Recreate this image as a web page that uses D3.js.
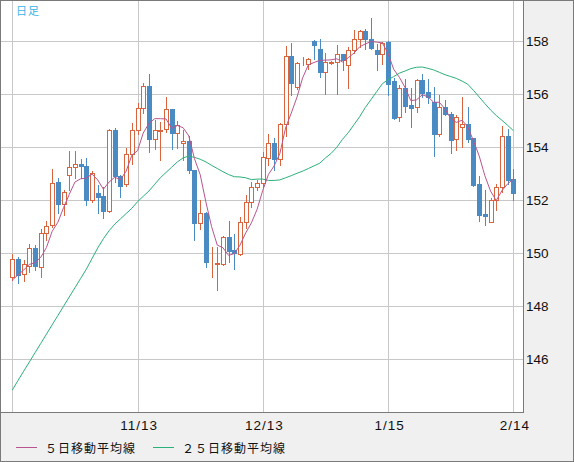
<!DOCTYPE html>
<html>
<head>
<meta charset="utf-8">
<script src="https://cdn.jsdelivr.net/npm/d3@7"></script>
<style>
  body { margin: 0; background: #f0f0f0; }
  svg { display: block; }
</style>
</head>
<body>
<div id="chart"></div>
<script>
// daily candles, 2024/10/14 - 2025/02/14
const dates = [
  "10/14","10/15","10/16","10/17","10/18","10/21","10/22","10/23","10/24","10/25","10/28","10/29","10/30","10/31",
  "11/1","11/4","11/5","11/6","11/7","11/8","11/11","11/12","11/13","11/14","11/15","11/18","11/19","11/20","11/21",
  "11/22","11/25","11/26","11/27","11/28","11/29","12/2","12/3","12/4","12/5","12/6","12/9","12/10","12/11","12/12",
  "12/13","12/16","12/17","12/18","12/19","12/20","12/23","12/24","12/25","12/26","12/27","12/30","12/31","1/2","1/3",
  "1/6","1/7","1/8","1/9","1/10","1/13","1/14","1/15","1/16","1/17","1/20","1/21","1/22","1/23","1/24","1/27","1/28",
  "1/29","1/30","1/31","2/3","2/4","2/5","2/6","2/7","2/10","2/11","2/12","2/13","2/14"
];

const open = [
  149.12,149.77,149.23,149.53,150.19,149.50,150.75,151.07,152.68,151.85,152.94,153.25,153.36,153.30,
  152.01,152.26,152.16,151.61,154.65,152.90,152.62,153.74,154.65,155.47,156.31,154.30,154.60,154.68,155.43,
  154.53,154.15,154.24,153.14,151.13,151.53,149.58,149.60,149.60,150.63,150.13,149.97,151.19,151.95,152.49,
  152.64,153.58,154.15,153.55,154.87,157.45,156.29,157.17,157.13,158.00,157.70,156.86,157.20,157.22,157.53,
  157.12,157.66,158.08,158.38,158.10,157.68,157.53,157.98,156.52,155.13,156.25,155.60,155.51,156.54,156.10,
  155.70,154.50,155.51,155.26,154.30,154.75,154.88,154.34,152.62,151.48,151.19,152.01,152.49,154.43,152.79
];
const high = [
  149.99,149.87,149.75,150.35,150.31,150.92,151.21,153.17,152.84,152.39,153.86,153.86,153.57,153.58,
  153.09,152.58,152.52,154.69,154.73,152.96,153.99,154.91,155.66,156.44,156.77,155.03,154.97,155.91,155.45,
  154.99,154.65,154.43,153.14,152.01,151.57,150.25,150.25,150.65,151.23,150.73,151.38,152.20,152.70,152.77,
  153.84,154.50,154.36,154.90,157.82,157.95,157.23,157.41,157.37,158.05,158.08,157.55,157.25,157.85,157.53,
  157.79,158.42,158.42,158.48,158.88,157.90,157.98,158.00,156.60,156.35,156.58,156.23,156.56,156.77,156.58,
  156.29,155.97,155.79,155.35,155.22,155.89,155.53,154.36,152.92,152.39,152.08,152.62,154.81,154.69,153.18
];
const low = [
  148.99,148.87,148.97,149.28,149.37,149.09,150.50,151.00,151.53,151.45,152.39,152.83,152.83,151.81,
  151.95,151.53,151.33,151.57,152.70,152.14,152.55,153.37,154.50,155.30,153.84,153.92,153.52,154.59,153.92,
  153.99,153.52,153.02,150.50,150.91,149.47,149.09,148.62,149.55,149.69,149.40,149.94,150.94,151.76,152.39,
  152.52,153.33,153.14,153.33,154.43,155.96,156.20,157.09,156.97,157.35,156.65,156.01,157.15,156.03,156.91,
  156.24,157.57,157.79,157.72,157.72,156.90,157.15,155.96,155.05,154.99,155.35,154.78,155.35,155.89,155.66,
  153.69,154.43,155.22,153.80,153.90,154.00,154.21,152.55,151.22,151.08,151.19,151.64,152.33,152.60,152.01
];
const close = [
  149.77,149.18,149.58,150.19,149.53,150.75,151.03,152.67,151.85,152.30,153.25,153.36,153.30,152.01,
  153.02,152.14,151.61,154.65,152.93,152.55,153.74,154.65,155.47,156.31,154.31,154.65,154.66,155.43,154.53,
  154.83,154.24,153.14,151.13,151.53,149.66,149.60,149.62,150.63,150.10,150.00,151.19,151.95,152.52,152.64,
  153.62,154.15,153.55,154.87,157.45,156.42,157.17,157.20,157.32,157.87,156.86,157.22,157.22,157.53,157.28,
  157.66,158.08,158.38,158.10,157.75,157.53,157.94,156.40,155.09,156.23,155.57,155.50,156.54,156.06,155.89,
  154.50,155.53,155.25,154.28,155.16,154.88,154.31,152.58,151.45,151.42,152.01,152.49,154.43,152.77,152.29
];

// moving averages
const ma5 = [
  148.99,149.18,149.37,149.58,149.65,149.85,150.22,150.83,151.17,151.72,152.22,152.69,152.81,152.84,
  152.99,152.77,152.42,152.69,152.87,152.78,153.10,153.70,153.87,154.54,154.90,155.08,155.08,155.07,154.72,
  154.82,154.74,154.43,153.57,152.97,151.94,151.01,150.31,150.21,149.92,149.99,150.31,150.77,151.15,151.66,
  152.38,152.98,153.30,153.77,154.73,155.29,155.89,156.62,157.11,157.20,157.28,157.29,157.30,157.34,157.22,
  157.38,157.55,157.79,157.90,157.99,157.97,157.94,157.54,156.94,156.64,156.25,155.76,155.79,155.98,155.91,
  155.70,155.70,155.45,155.09,154.94,155.02,154.78,154.24,153.68,152.93,152.35,151.99,152.36,152.62,152.80
];
const ma25 = [
  144.84,145.20,145.55,145.90,146.25,146.60,146.95,147.30,147.65,148.00,148.35,148.70,149.05,149.40,
  149.80,150.20,150.55,150.85,151.10,151.30,151.50,151.70,151.95,152.15,152.35,152.60,152.85,153.05,153.25,
  153.45,153.60,153.67,153.62,153.55,153.45,153.32,153.20,153.08,152.97,152.89,152.88,152.85,152.78,152.80,
  152.80,152.75,152.75,152.77,152.85,152.93,153.02,153.10,153.20,153.30,153.40,153.60,153.77,154.00,154.30,
  154.55,154.85,155.15,155.50,155.80,156.10,156.40,156.55,156.67,156.80,156.88,156.97,157.02,157.03,156.98,
  156.92,156.83,156.74,156.67,156.60,156.50,156.38,156.15,155.90,155.65,155.41,155.20,155.02,154.83,154.63
];

const yTicks = [146, 148, 150, 152, 154, 156, 158];
const gridDates = ["10/14", "11/13", "12/13", "1/15", "2/14"];
const labelDates = ["11/13", "12/13", "1/15", "2/14"];

const W = 574, H = 462;
const plot = { left: 1, top: 1, right: 523, bottom: 412 };

const colUp = "#d9643e", colDown = "#4b8bc3";
const colMa5 = "#b9558e", colMa25 = "#2bb07a";
const colGrid = "#c8c8c8", colBorder = "#7a7a7a";

const svg = d3.select("#chart")
  .append("svg")
  .attr("width", W)
  .attr("height", H);

svg.append("rect")
  .attr("width", W).attr("height", H)
  .attr("fill", "#f0f0f0");

svg.append("rect")
  .attr("x", plot.left).attr("y", plot.top)
  .attr("width", plot.right - plot.left).attr("height", plot.bottom - plot.top)
  .attr("fill", "#fff");

// scales
const x = d3.scalePoint()
  .domain(dates)
  .range([12.3, 513.3]);

const y = d3.scaleLinear()
  .domain([146, 158])
  .range([359.3, 41.3]);

const px = v => Math.round(v) + 0.5;

// grid
svg.append("g")
  .selectAll("line")
  .data(yTicks)
  .join("line")
    .attr("x1", plot.left).attr("x2", plot.right)
    .attr("y1", d => px(y(d))).attr("y2", d => px(y(d)))
    .attr("stroke", colGrid)
    .attr("shape-rendering", "crispEdges");

svg.append("g")
  .selectAll("line")
  .data(gridDates)
  .join("line")
    .attr("x1", d => px(x(d))).attr("x2", d => px(x(d)))
    .attr("y1", plot.top).attr("y2", plot.bottom)
    .attr("stroke", colGrid)
    .attr("shape-rendering", "crispEdges");

// candles
const candles = dates.map((d, i) => ({
  date: d, o: open[i], h: high[i], l: low[i], c: close[i]
}));

svg.append("defs").append("clipPath")
  .attr("id", "clip")
  .append("rect")
    .attr("x", plot.left).attr("y", plot.top)
    .attr("width", plot.right - plot.left).attr("height", plot.bottom - plot.top);

const g = svg.append("g").attr("clip-path", "url(#clip)");

const cg = g.append("g")
  .selectAll("g")
  .data(candles)
  .join("g")
    .attr("shape-rendering", "crispEdges");

cg.append("line")
  .attr("x1", d => Math.round(x(d.date)) + 0.5)
  .attr("x2", d => Math.round(x(d.date)) + 0.5)
  .attr("y1", d => Math.round(y(d.h)))
  .attr("y2", d => Math.round(y(d.l)) + 1)
  .attr("stroke", d => d.c >= d.o ? colUp : colDown);

cg.append("rect")
  .attr("x", d => d.c >= d.o ? Math.round(x(d.date)) - 1.5 : Math.round(x(d.date)) - 2)
  .attr("y", d => d.c >= d.o ? Math.round(y(d.c)) + 0.5 : Math.round(y(d.o)))
  .attr("width", d => d.c >= d.o ? 4 : 5)
  .attr("height", d => d.c >= d.o
    ? Math.max(0, Math.round(y(d.o)) - Math.round(y(d.c)))
    : Math.max(1, Math.round(y(d.c)) - Math.round(y(d.o)) + 1))
  .attr("fill", d => d.c >= d.o ? "#fff" : colDown)
  .attr("stroke", d => d.c >= d.o ? colUp : "none");

// moving averages
const maLine = d3.line()
  .x((d, i) => x(dates[i]))
  .y(d => y(d));

g.append("path")
  .datum(ma25)
  .attr("fill", "none")
  .attr("stroke", colMa25)
  .attr("stroke-width", 1)
  .attr("d", maLine);

g.append("path")
  .datum(ma5)
  .attr("fill", "none")
  .attr("stroke", colMa5)
  .attr("stroke-width", 1)
  .attr("d", maLine);

// borders
svg.append("path")
  .attr("d", `M${plot.right + 0.5},0 V${plot.bottom + 0.5} H0`)
  .attr("fill", "none")
  .attr("stroke", colBorder)
  .attr("shape-rendering", "crispEdges");

svg.append("rect")
  .attr("x", 0.5).attr("y", 0.5)
  .attr("width", W - 1).attr("height", H - 1)
  .attr("fill", "none")
  .attr("stroke", colBorder)
  .attr("shape-rendering", "crispEdges");

// axis labels
svg.append("g")
  .selectAll("text")
  .data(yTicks)
  .join("text")
    .attr("x", 526)
    .attr("y", d => y(d) + 5)
    .text(d => d)
    .style("font-family", "'Liberation Sans', Arial, sans-serif")
    .style("font-size", "13.5px")
    .attr("fill", "#111");

svg.append("g")
  .selectAll("text")
  .data(labelDates)
  .join("text")
    .attr("x", d => x(d) + 1.5)
    .attr("y", 430)
    .attr("text-anchor", "middle")
    .text(d => d)
    .style("font-family", "'Liberation Sans', Arial, sans-serif")
    .style("font-size", "13.5px")
    .style("letter-spacing", "1px")
    .attr("fill", "#111");

svg.append("text")
  .attr("x", 16)
  .attr("y", 15)
  .text("日足")
  .style("font-family", "'Noto Sans CJK JP', sans-serif")
  .style("font-size", "11px")
  .style("letter-spacing", "1px")
  .attr("fill", "#3cb3e8");

// legend
const legend = [
  { label: "５日移動平均線", color: colMa5, x: 16 },
  { label: "２５日移動平均線", color: colMa25, x: 153 }
];

const lg = svg.append("g")
  .selectAll("g")
  .data(legend)
  .join("g")
    .attr("transform", d => `translate(${d.x},447)`);

lg.append("line")
  .attr("x1", 0).attr("x2", 21)
  .attr("y1", 0.5).attr("y2", 0.5)
  .attr("stroke", d => d.color)
  .attr("shape-rendering", "crispEdges");

lg.append("text")
  .attr("x", 29)
  .attr("y", 5.5)
  .text(d => d.label)
  .style("font-family", "'Noto Sans CJK JP', sans-serif")
  .style("font-size", "12px")
  .style("letter-spacing", "1px")
  .attr("fill", "#111");
</script>
</body>
</html>
